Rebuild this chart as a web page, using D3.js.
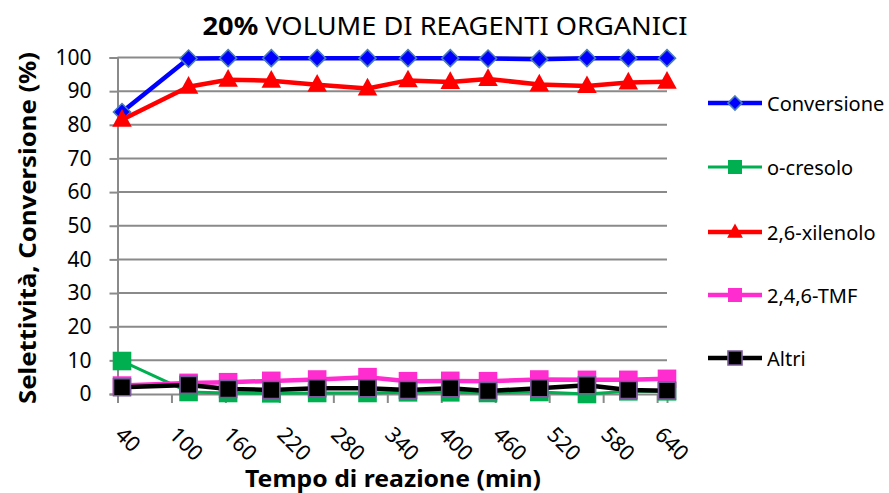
<!DOCTYPE html>
<html><head><meta charset="utf-8">
<script src="https://cdn.jsdelivr.net/npm/d3@7"></script>
<style>body{margin:0;background:#fff}svg{display:block}text{font-family:"Noto Sans",sans-serif}</style>
</head><body>
<svg id="c" width="889" height="493"></svg>
<script>
const times = [45, 119, 163, 211, 262, 318, 363, 410, 452, 509, 562, 608, 651];
const conversione = [83.8, 99.7, 99.8, 99.8, 99.8, 99.8, 99.8, 99.8, 99.7, 99.5, 99.8, 99.8, 99.8];
const cresolo = [9.8, 0.6, 0.3, 0.2, 0.3, 0.3, 0.5, 0.5, 0.3, 0.6, 0.0, 0.8, 0.8];
const xilenolo = [81.5, 91.3, 93.4, 93.1, 91.9, 90.8, 93.2, 92.7, 93.6, 92.0, 91.5, 92.6, 92.8];
const tmf = [2.5, 3.3, 3.5, 3.9, 4.3, 5.0, 3.8, 3.9, 3.8, 4.3, 4.2, 4.2, 4.5];
const altri = [2.0, 2.7, 1.5, 1.2, 1.7, 1.7, 1.2, 1.7, 0.9, 1.7, 2.6, 1.2, 1.0];
const xTicks = [40, 100, 160, 220, 280, 340, 400, 460, 520, 580, 640];
const yTicks = [0, 10, 20, 30, 40, 50, 60, 70, 80, 90, 100];
const seriesNames = ["Conversione", "o-cresolo", "2,6-xilenolo", "2,4,6-TMF", "Altri"];

const series = [
  {name: seriesNames[0], values: conversione, color: "#0000ff", shape: "diamond", fill: "#0000ff", stroke: "#4a7ebb", lw: 4.5},
  {name: seriesNames[1], values: cresolo, color: "#00b050", shape: "square", fill: "#00b050", stroke: "none", lw: 3},
  {name: seriesNames[2], values: xilenolo, color: "#ff0000", shape: "triangle", fill: "#ff0000", stroke: "none", lw: 4.5},
  {name: seriesNames[3], values: tmf, color: "#ff2ccf", shape: "square", fill: "#ff2ccf", stroke: "none", lw: 4.5},
  {name: seriesNames[4], values: altri, color: "#000000", shape: "square", fill: "#000000", stroke: "#7a5a9a", lw: 4.5}
];

const svg = d3.select("#c");
const x = d3.scaleLinear().domain([40, 651]).range([117.5, 667]);
const y = d3.scaleLinear().domain([0, 100]).range([394, 57.5]);
const grid = "#8a8a8a";

// gridlines
svg.append("g").selectAll("line").data(yTicks.filter(d => d > 0)).join("line")
  .attr("x1", x.range()[0]).attr("x2", x.range()[1])
  .attr("y1", d => y(d)).attr("y2", d => y(d))
  .attr("stroke", grid).attr("stroke-width", 2);

// y axis
const ya = svg.append("g").attr("transform", `translate(${x.range()[0]},0)`)
  .call(d3.axisLeft(y).tickValues(yTicks).tickSize(8).tickPadding(18));
ya.select(".domain").attr("stroke", grid).attr("stroke-width", 2);
ya.selectAll(".tick line").attr("stroke", grid).attr("stroke-width", 2);
ya.selectAll(".tick text").attr("font-size", 21).attr("fill", "#000").attr("font-family", "Noto Sans");

// x axis
const xa = svg.append("g").attr("transform", `translate(0,${y(0)})`)
  .call(d3.axisBottom(x).tickValues(xTicks).tickSize(9).tickFormat(d3.format("d")));
xa.select(".domain").attr("stroke", grid).attr("stroke-width", 2);
xa.selectAll(".tick line").attr("stroke", grid).attr("stroke-width", 2);
xa.selectAll(".tick text").attr("font-size", 21.5).attr("fill", "#000").attr("font-family", "Noto Sans")
  .attr("text-anchor", "start").attr("dy", null).attr("y", null)
  .attr("transform", "translate(-4,42) rotate(45)");

function shapePath(shape, s) {
  if (shape === "diamond") return `M0,${-s}L${s},0L0,${s}L${-s},0Z`;
  if (shape === "triangle") return `M0,${-s * 1.15}L${s * 1.05},${s * 0.75}L${-s * 1.05},${s * 0.75}Z`;
  return `M${-s},${-s}L${s},${-s}L${s},${s}L${-s},${s}Z`;
}

const line = d3.line().x(d => x(d[0])).y(d => y(d[1]));
series.forEach(s => {
  const pts = times.map((t, i) => [t, s.values[i]]);
  const g = svg.append("g");
  g.append("path").datum(pts).attr("d", line).attr("fill", "none")
    .attr("stroke", s.color).attr("stroke-width", s.lw).attr("stroke-linejoin", "round");
  const size = 9.3;
  g.selectAll("path.m").data(pts).join("path").attr("class", "m")
    .attr("transform", d => `translate(${x(d[0])},${y(d[1])})`)
    .attr("d", shapePath(s.shape, s.stroke === "none" ? size : size - 0.8))
    .attr("fill", s.fill).attr("stroke", s.stroke).attr("stroke-width", 1.6);
});

// legend
const legY = [103, 167, 232, 295, 358];
const lg = svg.append("g");
series.forEach((s, i) => {
  const row = lg.append("g").attr("transform", `translate(0,${legY[i]})`);
  row.append("line").attr("x1", 708).attr("x2", 762).attr("y1", 0).attr("y2", 0)
    .attr("stroke", s.color).attr("stroke-width", s.lw);
  row.append("path").attr("transform", "translate(735,0)")
    .attr("d", shapePath(s.shape, s.shape === "diamond" ? 7 : (s.shape === "triangle" ? 7.5 : 7)))
    .attr("fill", s.fill).attr("stroke", s.stroke).attr("stroke-width", 1.6);
  row.append("text").attr("x", 767).attr("y", 7.5).attr("font-size", 20).text(s.name);
});

// title
const title = svg.append("text").attr("x", 445).attr("y", 35).attr("text-anchor", "middle")
  .attr("font-size", 25).attr("textLength", 485).attr("lengthAdjust", "spacingAndGlyphs");
title.append("tspan").attr("font-weight", "bold").text("20%");
title.append("tspan").text(" VOLUME DI REAGENTI ORGANICI");

// axis titles
svg.append("text").attr("x", 393).attr("y", 487).attr("text-anchor", "middle")
  .attr("font-size", 23).attr("font-weight", "bold")
  .attr("textLength", 296).attr("lengthAdjust", "spacingAndGlyphs")
  .text("Tempo di reazione (min)");
svg.append("text").attr("transform", "translate(36,228) rotate(-90)").attr("text-anchor", "middle")
  .attr("font-size", 23).attr("font-weight", "bold")
  .attr("textLength", 352).attr("lengthAdjust", "spacingAndGlyphs")
  .text("Selettività, Conversione (%)");
</script>
</body></html>
